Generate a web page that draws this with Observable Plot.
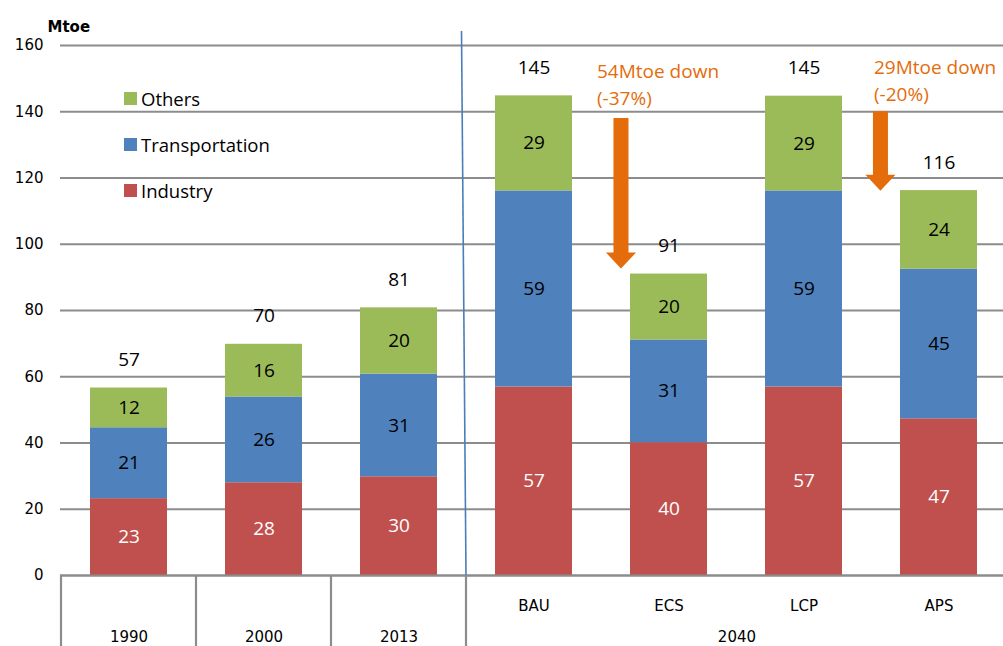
<!DOCTYPE html>
<html><head><meta charset="utf-8">
<script src="https://cdn.jsdelivr.net/npm/d3@7"></script>
<script src="https://cdn.jsdelivr.net/npm/@observablehq/plot@0.6"></script>
<style>
body{margin:0;background:#fff;overflow:hidden}
#wrap{position:relative;width:1003px;height:646px;overflow:hidden}
.leg{position:absolute;left:124px;font:18.5px "Open Sans";display:flex;align-items:center;height:20px;color:#000}
.leg i{display:inline-block;width:13px;height:13px;margin-right:4px}
</style></head><body><div id="wrap"></div>
<script>
// ---- data ----
const categories = ["1990","2000","2013","BAU","ECS","LCP","APS"];
const groups = ["1990","2000","2013","2040","2040","2040","2040"];
const series = ["Industry","Transportation","Others"];
const industry       = [23.2, 28.0, 29.8, 56.9, 40.1, 56.9, 47.3];
const transportation = [21.4, 25.9, 31.0, 59.2, 31.0, 59.2, 45.2];
const others         = [12.0, 15.9, 20.0, 28.7, 19.9, 28.6, 23.7];
const yTicks = [0,20,40,60,80,100,120,140,160];
const colors = ["#C0504D","#4F81BD","#9BBB59"];
const annotationTargets = ["ECS","APS"];
const annotationLines = ["54Mtoe down\n(-37%)", "29Mtoe down\n(-20%)"];
const arrowFrom = [138, 140];
const arrowTo = [92.5, 116];

// ---- tables ----
const rows = [];
categories.forEach((c,i)=>{
  let base = 0;
  [industry, transportation, others].forEach((arr,j)=>{
    rows.push({cat:c, series:series[j], value:arr[i], y1:base, y2:base+arr[i]});
    base += arr[i];
  });
});
const totals = categories.map((c,i)=>({cat:c, total: industry[i]+transportation[i]+others[i]}));
const firstOfGroup = [];
groups.forEach((g,i)=>{ if (groups.indexOf(g)===i) firstOfGroup.push({g, cat:categories[i], n: groups.filter(x=>x===g).length}); });

const xRange = [60, 1007];
const step = (xRange[1]-xRange[0])/categories.length;
const gray = "#8C8C8C";
const F = "Open Sans";
const FA = "DejaVu Sans";

const chart = Plot.plot({
  width: 1003, height: 646,
  marginLeft: 60, marginRight: 0, marginTop: 45, marginBottom: 71,
  style: {background:"white", fontFamily: F, overflow:"visible"},
  x: {domain: categories, range: xRange, paddingInner: 0.43, paddingOuter: 0.215, axis: null},
  y: {domain: [0,160]},
  color: {domain: series, range: colors},
  marks: [
    Plot.gridY(yTicks, {stroke: gray, strokeOpacity: 1, strokeWidth: 2.2}),
    Plot.axisY(yTicks, {tickSize: 0, tickPadding: 17, fontSize: 15, fontFamily: FA, fill: "#000", label: null}),
    Plot.barY(rows, {x:"cat", y1:"y1", y2:"y2", fill:"series", inset: 0}),
    Plot.ruleY([0], {stroke: gray, strokeWidth: 2.2}),
    Plot.text(rows.filter(d=>d.series==="Industry"), {x:"cat", y:d=>(d.y1+d.y2)/2, text:d=>String(Math.round(d.value)), fill:"white", fontSize:19, fontFamily:F}),
    Plot.text(rows.filter(d=>d.series!=="Industry"), {x:"cat", y:d=>(d.y1+d.y2)/2, text:d=>String(Math.round(d.value)), fill:"black", fontSize:19, fontFamily:F}),
    Plot.text(totals, {x:"cat", y:"total", dy:-28, text:d=>String(Math.round(d.total)), fill:"black", fontSize:19, fontFamily:F}),
    // scenario labels under 2040
    Plot.text(firstOfGroup.filter(d=>d.n>1).flatMap(d=>categories.filter((c,i)=>groups[i]===d.g)), {x:d=>d, y:0, dy:31, text:d=>d, fontSize:15, fontFamily:FA, fill:"#000"}),
    // group labels
    Plot.text(firstOfGroup.filter(d=>d.n===1), {x:"cat", y:0, dy:62, text:"g", fontSize:15, fontFamily:FA, fill:"#000"}),
    Plot.text(firstOfGroup.filter(d=>d.n>1), {x:"cat", y:0, dy:62, dx:1.5*step, text:"g", fontSize:15, fontFamily:FA, fill:"#000"}),
    // annotations
    Plot.text([annotationLines[0]], {x:()=>annotationTargets[0], y:()=>160, dy:37.5, dx:-72, text:d=>d, textAnchor:"start", lineAnchor:"middle", lineHeight:1.42, fill:"#E46C0A", fontSize:19, fontFamily:F}),
    Plot.text([annotationLines[1]], {x:()=>annotationTargets[1], y:()=>160, dy:33.5, dx:-65, text:d=>d, textAnchor:"start", lineAnchor:"middle", lineHeight:1.42, fill:"#E46C0A", fontSize:19, fontFamily:F}),
    Plot.text(["Mtoe"], {frameAnchor:"top-left", dx:-13, dy:-18, text:d=>d, textAnchor:"start", lineAnchor:"middle", fontWeight:"bold", fontSize:15, fontFamily:FA, fill:"#000"})
  ]
});

const wrap = document.getElementById("wrap");
wrap.appendChild(chart);
const svgEl = chart.tagName.toLowerCase()==="svg" ? chart : chart.querySelector("svg");
const X = chart.scale("x"), Y = chart.scale("y");
const left = c => X.apply(c) - (X.step - X.bandwidth)/2;
const center = c => X.apply(c) + X.bandwidth/2;
const svg = d3.select(svgEl);
const g = svg.append("g");

// group separators below the axis
const seps = [];
groups.forEach((gr,i)=>{ if (groups.indexOf(gr)===i) seps.push(categories[i]); });
seps.forEach(c=>{
  g.append("line").attr("x1", left(c)).attr("x2", left(c)).attr("y1", Y.apply(0)).attr("y2", 646)
    .attr("stroke", gray).attr("stroke-width", 2.2);
});
// blue divider between history and 2040 scenarios
const bx = left(categories[groups.indexOf("2040")]);
g.append("line").attr("x1", bx-4.5).attr("x2", bx).attr("y1", Y.apply(160)-14).attr("y2", Y.apply(0))
  .attr("stroke", "#4A7EBB").attr("stroke-width", 1.6);

// arrows
const arrowShift = [-0.352, -0.43];
annotationTargets.forEach((c,i)=>{
  const cx = center(c) + arrowShift[i]*X.step;
  const yt = Y.apply(arrowFrom[i]), yb = Y.apply(arrowTo[i]);
  const sw = 7.5, hw = 15, hh = 16;
  const pts = [[cx-sw,yt],[cx+sw,yt],[cx+sw,yb-hh],[cx+hw,yb-hh],[cx,yb],[cx-hw,yb-hh],[cx-sw,yb-hh]];
  g.append("polygon").attr("points", pts.map(p=>p.join(",")).join(" ")).attr("fill","#E46C0A");
});

// legend (top = Others)
const legTops = [98.5, 144.5, 190.5];
[2,1,0].forEach((j,k)=>{
  const d = document.createElement("div");
  d.className = "leg";
  d.style.top = (legTops[k]-10) + "px";
  d.innerHTML = `<i style="background:${colors[j]}"></i><span>${series[j]}</span>`;
  wrap.appendChild(d);
});
</script>
</body></html>
